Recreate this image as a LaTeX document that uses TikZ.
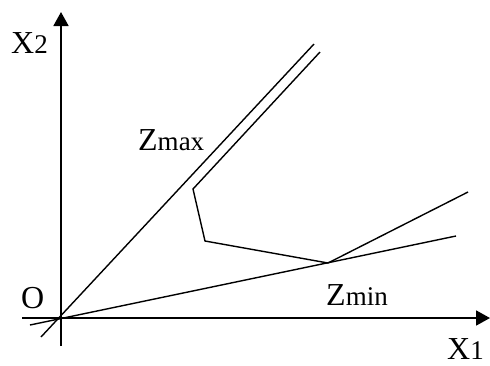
\documentclass[tikz,border=0pt]{standalone}
\usepackage{fontspec}
\setmainfont{Liberation Serif}
\usetikzlibrary{arrows.meta}
\newcommand{\low}[1]{{\fontsize{27}{27}\selectfont #1}}

\begin{document}
\begin{tikzpicture}[x=1pt,y=-1pt,
    axis/.style={line width=1.8pt,-{Triangle[length=14pt,width=15pt]}},
    edge/.style={line width=1.4pt},
    lbl/.style={anchor=base west,inner sep=0pt,font=\fontsize{32}{32}\selectfont}]
  \useasboundingbox (0,0) rectangle (490,365);
  % axes
  \coordinate (x1start) at (22,318);
  \coordinate (x1end) at (490,318);
  \coordinate (x2start) at (61,346);
  \coordinate (x2end) at (61,12);
  \draw[axis] (x1start) -- (x1end);
  \draw[axis] (x2start) -- (x2end);
  % objective lines
  \coordinate (maxA) at (41,337);
  \coordinate (maxB) at (314,44);
  \coordinate (minA) at (30,325);
  \coordinate (minB) at (456,236);
  \draw[edge] (maxA) -- (maxB);
  \draw[edge] (minA) -- (minB);
  % boundary of the region
  \coordinate (p1) at (320,52);
  \coordinate (p2) at (193,189);
  \coordinate (p3) at (205,241);
  \coordinate (p4) at (328,263);
  \coordinate (p5) at (468,192);
  \draw[edge,line join=miter] (p1) -- (p2) -- (p3) -- (p4) -- (p5);
  % labels
  \node[lbl] (labx2) at (11,53) {X\low{2}};
  \node[lbl] (labx1) at (447,359) {X\low{1}};
  \node[lbl] (labo) at (21,308) {O};
  \node[lbl] (labmax) at (138,150) {Z\low{max}};
  \node[lbl] (labmin) at (326,305) {Z\low{min}};
\end{tikzpicture}
\end{document}
